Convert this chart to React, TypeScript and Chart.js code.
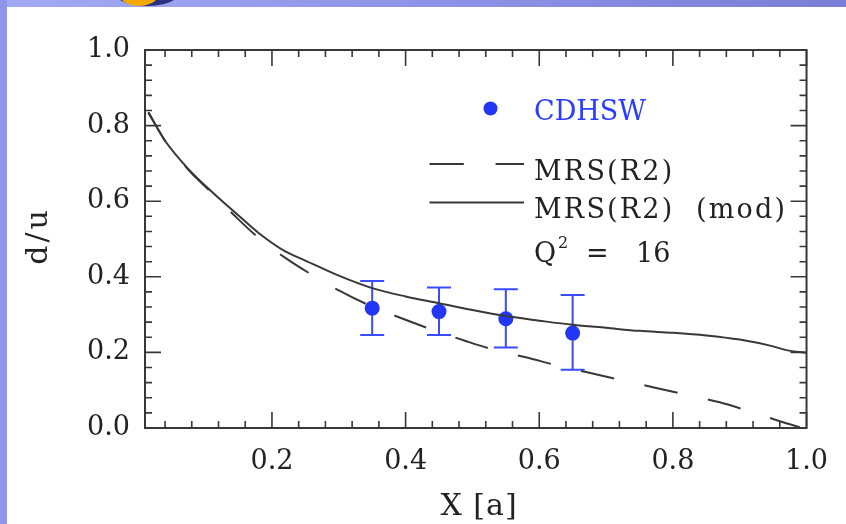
import React, { useEffect, useRef } from "react";
import { Chart, registerables } from "chart.js";
Chart.register(...registerables);

// MRS(R2) (mod) - solid curve
const solidX = [0.015, 0.04, 0.075, 0.11, 0.15, 0.18, 0.22, 0.25, 0.3, 0.35, 0.4, 0.45, 0.5, 0.55, 0.6, 0.65, 0.7, 0.75, 0.8, 0.85, 0.9, 0.95, 0.97, 1.0];
const solidY = [0.835, 0.76, 0.685, 0.625, 0.562, 0.516, 0.467, 0.443, 0.403, 0.37, 0.348, 0.33, 0.312, 0.296, 0.284, 0.273, 0.265, 0.257, 0.252, 0.245, 0.234, 0.216, 0.206, 0.199];
// MRS(R2) - dashed curve
const dashedX = [0.015, 0.04, 0.075, 0.11, 0.145, 0.18, 0.22, 0.26, 0.3, 0.35, 0.39, 0.44, 0.49, 0.53, 0.58, 0.63, 0.67, 0.72, 0.77, 0.82, 0.87, 0.91, 0.96, 0.99];
const dashedY = [0.835, 0.76, 0.683, 0.622, 0.56, 0.503, 0.45, 0.405, 0.364, 0.321, 0.293, 0.26, 0.23, 0.208, 0.187, 0.164, 0.148, 0.128, 0.108, 0.088, 0.068, 0.047, 0.018, 0.002];
// CDHSW data
const pointX = [0.35, 0.45, 0.55, 0.65];
const pointY = [0.317, 0.308, 0.289, 0.251];
const errLow = [0.246, 0.246, 0.213, 0.154];
const errHigh = [0.389, 0.372, 0.367, 0.352];

const xTicks = [0.2, 0.4, 0.6, 0.8, 1.0];
const yTicks = [0.0, 0.2, 0.4, 0.6, 0.8, 1.0];
const minorStep = 0.04;
const legendLabels = ["CDHSW", "MRS(R2)", "MRS(R2)  (mod)"];
const q2Label = ["Q", "2", "=", "16"];
const xTitle = "X [a]";
const yTitle = "d/u";

const FONT = '"DejaVu Serif", serif';
const LINE = "#383838";
const BLUE = "#2236f6";

const decor = {
  id: "decor",
  beforeDraw(chart: any) {
    const ctx = chart.ctx;
    const W = chart.width, H = chart.height;
    ctx.save();
    ctx.fillStyle = "#ffffff";
    ctx.fillRect(0, 0, W, H);
    const g = ctx.createLinearGradient(0, 0, W, 0);
    g.addColorStop(0, "#a2aaf4");
    g.addColorStop(1, "#7a7ed6");
    ctx.fillStyle = g;
    ctx.fillRect(0, 0, W, 7);
    ctx.fillStyle = "#8e94e9";
    ctx.fillRect(0, 0, 7, H);
    ctx.beginPath();
    ctx.rect(0, 0, W, 7);
    ctx.clip();
    ctx.fillStyle = "#2b3080";
    ctx.beginPath();
    ctx.ellipse(147, -6, 31, 12, 0, 0, Math.PI * 2);
    ctx.fill();
    ctx.fillStyle = "#f4a900";
    ctx.beginPath();
    ctx.ellipse(139, -7, 20, 13, 0, 0, Math.PI * 2);
    ctx.fill();
    ctx.restore();
  },
  beforeDatasetDraw(chart: any, args: any) {
    if (args.index !== 2) return;
    const ctx = chart.ctx;
    const xs = chart.scales.x, ys = chart.scales.y;
    ctx.save();
    ctx.strokeStyle = "#3a4cff";
    ctx.lineWidth = 2;
    for (let i = 0; i < pointX.length; i++) {
      const px = xs.getPixelForValue(pointX[i]);
      const lo = ys.getPixelForValue(errLow[i]);
      const hi = ys.getPixelForValue(errHigh[i]);
      ctx.beginPath();
      ctx.moveTo(px, lo); ctx.lineTo(px, hi);
      ctx.moveTo(px - 12, lo); ctx.lineTo(px + 12, lo);
      ctx.moveTo(px - 12, hi); ctx.lineTo(px + 12, hi);
      ctx.stroke();
    }
    ctx.restore();
  },
  afterDraw(chart: any) {
    const ctx = chart.ctx;
    const a = chart.chartArea;
    const xs = chart.scales.x, ys = chart.scales.y;
    ctx.save();
    ctx.strokeStyle = LINE;
    ctx.lineWidth = 2;
    ctx.strokeRect(a.left, a.top, a.right - a.left, a.bottom - a.top);
    ctx.lineWidth = 1.6;
    ctx.beginPath();
    for (let i = 1; i <= 25; i++) {
      const v = i * minorStep;
      if (v < xs.min || v > xs.max + 1e-9) continue;
      const len = i % 5 === 0 ? 16 : 7;
      const px = xs.getPixelForValue(v);
      ctx.moveTo(px, a.bottom); ctx.lineTo(px, a.bottom - len);
      ctx.moveTo(px, a.top); ctx.lineTo(px, a.top + len);
    }
    for (let i = 1; i < 25; i++) {
      const v = i * minorStep;
      const len = i % 5 === 0 ? 16 : 7;
      const py = ys.getPixelForValue(v);
      ctx.moveTo(a.left, py); ctx.lineTo(a.left + len, py);
      ctx.moveTo(a.right, py); ctx.lineTo(a.right - len, py);
    }
    ctx.stroke();

    // axis titles
    ctx.fillStyle = "#222";
    ctx.font = `30px ${FONT}`;
    ctx.textAlign = "center";
    ctx.textBaseline = "alphabetic";
    (ctx as any).letterSpacing = "1px";
    ctx.fillText(xTitle, 479, 515);
    ctx.save();
    ctx.translate(47, 236);
    ctx.rotate(-Math.PI / 2);
    (ctx as any).letterSpacing = "3px";
    ctx.fillText(yTitle, 0, 0);
    ctx.restore();

    // legend
    ctx.textAlign = "left";
    ctx.font = `27px ${FONT}`;
    (ctx as any).letterSpacing = "0px";
    ctx.fillStyle = BLUE;
    ctx.beginPath();
    ctx.arc(490.5, 108.5, 7, 0, Math.PI * 2);
    ctx.fill();
    ctx.fillStyle = "#2a3cff";
    ctx.fillText(legendLabels[0], 534, 120);

    ctx.strokeStyle = LINE;
    ctx.lineWidth = 2;
    ctx.beginPath();
    ctx.moveTo(429.5, 164); ctx.lineTo(463.8, 164);
    ctx.moveTo(495.6, 164); ctx.lineTo(524, 164);
    ctx.moveTo(429.5, 202.5); ctx.lineTo(524, 202.5);
    ctx.stroke();

    ctx.fillStyle = "#222";
    (ctx as any).letterSpacing = "2.2px";
    ctx.fillText(legendLabels[1], 534, 180);
    ctx.fillText(legendLabels[2], 534, 218);
    (ctx as any).letterSpacing = "0px";
    ctx.fillText(q2Label[0], 534, 262);
    ctx.font = `16px ${FONT}`;
    ctx.fillText(q2Label[1], 558, 248);
    ctx.font = `27px ${FONT}`;
    ctx.fillText(q2Label[2], 586, 262);
    ctx.fillText(q2Label[3], 636, 262);
    ctx.restore();
  },
};

export default function App() {
  const ref = useRef<HTMLCanvasElement>(null);
  useEffect(() => {
    if (!ref.current) return;
    const chart = new Chart(ref.current, {
      type: "scatter",
      data: {
        datasets: [
          {
            label: "MRS(R2)",
            data: dashedX.map((x, i) => ({ x, y: dashedY[i] })),
            showLine: true,
            borderColor: LINE,
            borderWidth: 2,
            borderDash: [34, 31],
            pointRadius: 0,
            cubicInterpolationMode: "monotone",
          },
          {
            label: "MRS(R2) (mod)",
            data: solidX.map((x, i) => ({ x, y: solidY[i] })),
            showLine: true,
            borderColor: LINE,
            borderWidth: 2,
            pointRadius: 0,
            cubicInterpolationMode: "monotone",
          },
          {
            label: "CDHSW",
            data: pointX.map((x, i) => ({ x, y: pointY[i] })),
            showLine: false,
            pointRadius: 7.5,
            pointBackgroundColor: BLUE,
            pointBorderWidth: 0,
            borderColor: BLUE,
          },
        ],
      },
      options: {
        responsive: false,
        animation: false,
        devicePixelRatio: 1,
        layout: { padding: { top: 50, right: 31, left: 0, bottom: 0 } },
        plugins: { legend: { display: false }, tooltip: { enabled: false } },
        scales: {
          x: {
            type: "linear",
            min: 0.01,
            max: 1.0,
            grid: { display: false, drawTicks: false },
            border: { display: false },
            afterBuildTicks: (s: any) => { s.ticks = xTicks.map((v) => ({ value: v })); },
            afterFit: (s: any) => { s.height = 96; },
            ticks: {
              padding: 18,
              color: "#222",
              font: { family: "DejaVu Serif", size: 27 },
              maxRotation: 0,
              callback: (v: any) => Number(v).toFixed(1),
            },
          },
          y: {
            type: "linear",
            min: 0,
            max: 1.0,
            grid: { display: false, drawTicks: false },
            border: { display: false },
            afterBuildTicks: (s: any) => { s.ticks = yTicks.map((v) => ({ value: v })); },
            afterFit: (s: any) => { s.width = 145; },
            ticks: {
              padding: 15,
              color: "#222",
              font: { family: "DejaVu Serif", size: 27 },
              callback: (v: any) => Number(v).toFixed(1),
            },
          },
        },
      },
      plugins: [decor],
    } as any);
    return () => chart.destroy();
  }, []);
  return (
    <div style={{ position: "fixed", left: 0, top: 0, width: 846, height: 524 }}>
      <canvas ref={ref} width={846} height={524} style={{ display: "block" }} />
    </div>
  );
}
